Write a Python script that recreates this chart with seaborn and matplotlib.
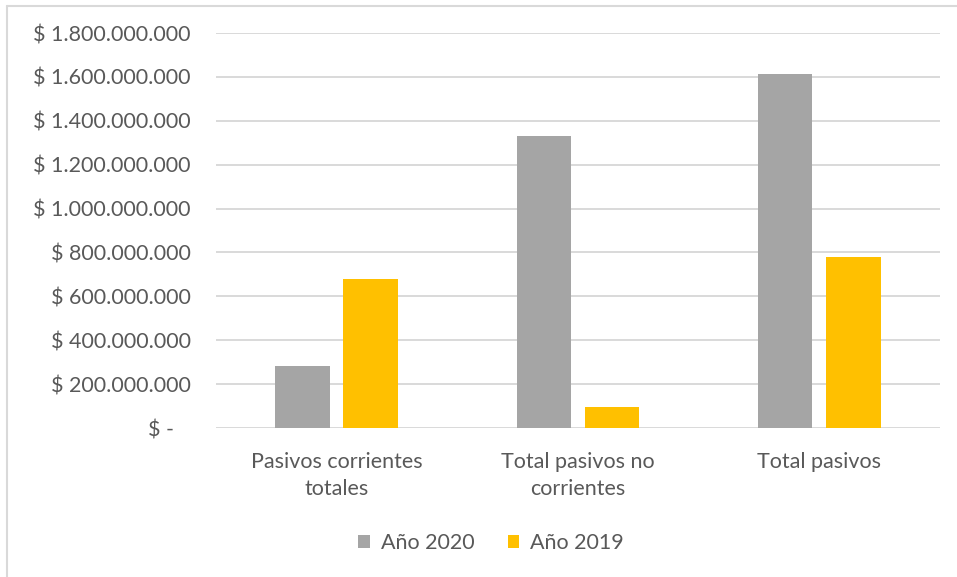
import pandas as pd
import matplotlib.pyplot as plt
import seaborn as sns
from matplotlib.lines import Line2D
from matplotlib.ticker import FuncFormatter

# ====================================================
# DATA
# ====================================================

categorias = ["Pasivos corrientes\ntotales", "Total pasivos no\ncorrientes", "Total pasivos"]
anio_2020 = [283000000, 1331000000, 1615000000]
anio_2019 = [679000000, 96000000, 778000000]
series = ["Año 2020", "Año 2019"]
colores = ["#A5A5A5", "#FFC000"]
y_ticks = [0, 200000000, 400000000, 600000000, 800000000,
           1000000000, 1200000000, 1400000000, 1600000000, 1800000000]

df = pd.DataFrame({
    "Categoria": categorias * 2,
    "Valor": anio_2020 + anio_2019,
    "Serie": [series[0]] * 3 + [series[1]] * 3,
})

# ====================================================
# STYLE
# ====================================================

sns.set_style("white")
plt.rcParams["font.family"] = ["Lato", "DejaVu Sans"]
texto = "#595959"
grid_color = "#D9D9D9"


def pesos(v, pos):
    if v == 0:
        return "$ -   "
    return "$ " + f"{int(v):,}".replace(",", ".")


# ====================================================
# PLOT
# ====================================================

fig = plt.figure(figsize=(9.57, 5.77), dpi=100)
ax = fig.add_axes([0.2257, 0.2582, 0.7565, 0.6846])

sns.barplot(
    data=df,
    x="Categoria",
    y="Valor",
    hue="Serie",
    hue_order=series,
    palette=colores,
    saturation=1,
    width=0.564,
    gap=0.2,
    linewidth=0,
    ax=ax,
)

ax.set_ylim(0, 1800000000)
ax.set_yticks(y_ticks)
ax.yaxis.set_major_formatter(FuncFormatter(pesos))
ax.set_xlim(-0.5, 2.5)
ax.set_xlabel("")
ax.set_ylabel("")

ax.grid(axis="y", color=grid_color, linewidth=1.4)
ax.set_axisbelow(True)
sns.despine(ax=ax, left=True, bottom=True)

ax.tick_params(axis="y", length=0, pad=18, labelsize=15.5, labelcolor=texto)
ax.tick_params(axis="x", length=0, pad=17, labelsize=15.5, labelcolor=texto)
for lbl in ax.get_xticklabels():
    lbl.set_linespacing(1.45)
    lbl.set_verticalalignment("top")

# legend under the chart
handles, labels = ax.get_legend_handles_labels()
ax.get_legend().remove()
fig.legend(
    handles, labels,
    loc="center",
    bbox_to_anchor=(0.513, 0.059),
    ncol=2,
    frameon=False,
    fontsize=15.5,
    labelcolor=texto,
    handlelength=0.55,
    handleheight=0.55,
    handletextpad=0.5,
    columnspacing=1.55,
)

# chart area border (top and left visible)
fig.add_artist(Line2D([0.0073, 0.0073], [0.0, 0.9896], color=grid_color, lw=1.5))
fig.add_artist(Line2D([0.0073, 1.0], [0.9896, 0.9896], color=grid_color, lw=1.5))

fig.savefig("out.png", dpi=100)
